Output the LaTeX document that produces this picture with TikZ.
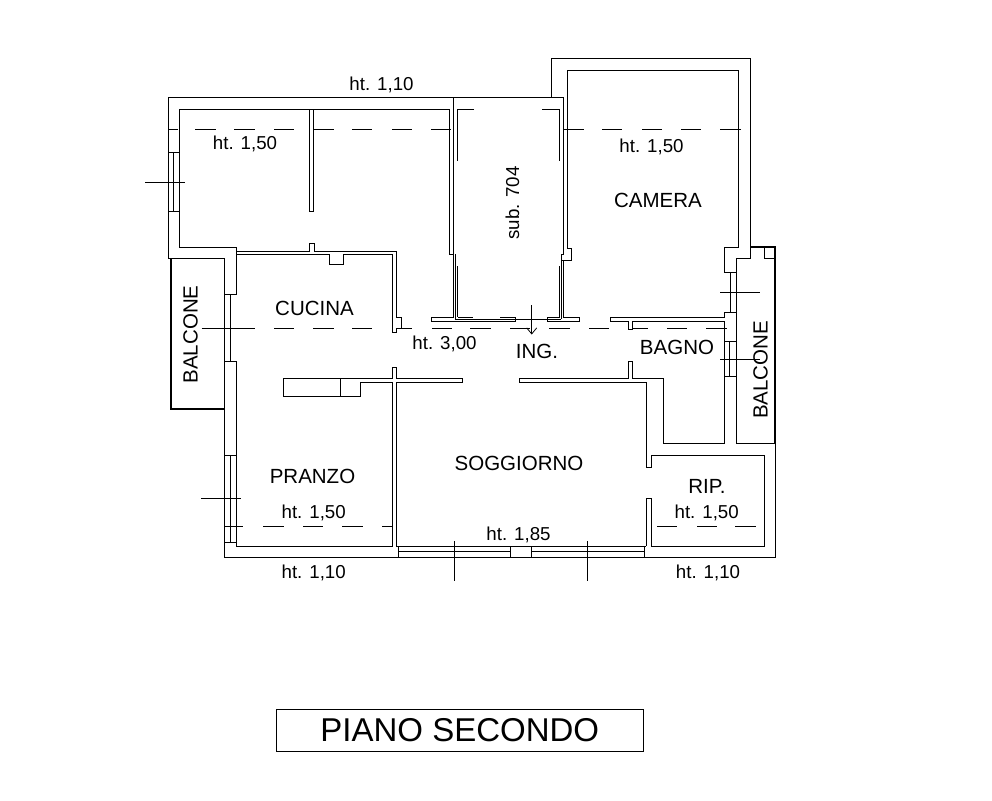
\documentclass[tikz,border=0pt]{standalone}
\usepackage{fontspec}
\setmainfont{Liberation Sans}
\usetikzlibrary{arrows.meta}

\tikzset{
	wall/.style={black, line width=0.95pt, line join=miter},
	heavy wall/.style={black, line width=2pt},
	thin wall/.style={black, line width=0.8pt},
	section/.style={black, line width=0.75pt},
	ht label/.style={inner sep=0pt, text height=14pt, text depth=0pt, font=\fontsize{18.7}{19}\selectfont},
	room label/.style={inner sep=0pt, text height=15pt, text depth=0pt, font=\fontsize{20.5}{20.5}\selectfont}
}

\begin{document}
\begin{tikzpicture}[x=1pt, y=-1pt]
	\useasboundingbox (0,0) rectangle (992,800);

	% outer walls
	\draw [wall] (168.5,258.7) -- (168.5,97.5) -- (563.3,97.5) -- (563.3,254) -- (561.3,254) -- (561.3,319);
	\draw [wall] (551.3,97.5) -- (551.3,58.7) -- (750.3,58.7) -- (750.3,258.5) -- (736.5,258.5) -- (736.5,443.7) -- (775,443.7);
	\draw [wall] (168.5,258.7) -- (224.3,258.7) -- (224.3,557.2) -- (775,557.2) -- (775,443.7);

	% balconies
	\draw [heavy wall] (224.3,409.3) -- (170.8,409.3) -- (170.8,258.7);
	\draw [heavy wall] (750.3,247.3) -- (775,247.3) -- (775,443.7);
	\draw [thin wall] (764.3,247.3) -- (764.3,258.5) -- (775,258.5);

	% rooms, top left
	\draw [wall] (179.5,152.3) -- (179.5,109.5) -- (449.3,109.5) -- (449.3,254) -- (453.5,254) -- (453.5,97.5);
	\draw [wall] (179.5,211.7) -- (179.5,247.3) -- (236.7,247.3) -- (236.7,294.3) -- (224.3,294.3);
	\draw [wall] (168.5,152.3) -- (179.5,152.3) (168.5,211.7) -- (179.5,211.7);
	\draw [thin wall] (173.5,152.3) -- (173.5,211.7) (179.5,152.3) -- (179.5,211.7);
	\draw [wall] (309.3,109.5) -- (309.3,211.7) -- (313.7,211.7) -- (313.7,109.5);

	% cucina
	\draw [wall] (236.7,251.3) -- (309.3,251.3) -- (309.3,243.3) -- (314,243.3) -- (314,251.3) -- (396.7,251.3) -- (396.7,317.3) -- (401,317.3) -- (401,328.3) -- (396.7,328.3) -- (396.7,332.3) -- (392.3,332.3) -- (392.3,254.3) -- (343.7,254.3) -- (343.7,264.3) -- (329.7,264.3) -- (329.7,254.3) -- (236.7,254.3);

	% sub. 704
	\draw [wall] (453.5,254) -- (453.5,317.1) -- (431.7,317.1) -- (431.7,321.3) -- (515.7,321.3) -- (515.7,317.1) -- (500,317.1);
	\draw [thin wall] (455.7,254) -- (455.7,319) -- (561.3,319);
	\draw [thin wall] (458,317.1) -- (472.7,317.1);
	\draw [thin wall] (474,109.5) -- (457.3,109.5) -- (457.3,160.7);
	\draw [thin wall] (542,109.5) -- (559.3,109.5) -- (559.3,160.7);
	\draw [thin wall] (457.3,266) -- (457.3,317.1);
	\draw [thin wall] (559.3,266) -- (559.3,317.1) -- (547.3,317.1);
	\draw [wall] (561.3,321.3) -- (547.3,321.3) -- (547.3,317.1);

	% camera
	\draw [wall] (567.3,248.7) -- (567.3,70.3) -- (738.3,70.3) -- (738.3,247.3) -- (724.3,247.3) -- (724.3,272.3) -- (736.5,272.3);
	\draw [wall] (567.3,248.7) -- (571.3,248.7) -- (571.3,260) -- (561.3,260);
	\draw [wall] (563.3,260) -- (563.3,317.1) -- (579.7,317.1) -- (579.7,321.3) -- (561.3,321.3);
	\draw [thin wall] (730.7,272.3) -- (730.7,312.3);

	% bagno
	\draw [wall] (736.5,312.3) -- (724.3,312.3) -- (724.3,317.1) -- (610,317.1) -- (610,321.3) -- (628,321.3) -- (628,329.3) -- (632.7,329.3) -- (632.7,321.3) -- (724.3,321.3) -- (724.3,376.3);
	\draw [wall] (724.3,341.3) -- (736.5,341.3) (724.3,376.3) -- (736.5,376.3);
	\draw [thin wall] (729,341.3) -- (729,376.3);
	\draw [wall] (724.3,376.3) -- (724.3,443.7) -- (663.7,443.7) -- (663.7,378.5) -- (632.7,378.5) -- (632.7,361.3) -- (628.3,361.3) -- (628.3,378.5) -- (519.3,378.5) -- (519.3,382.3) -- (646.3,382.3) -- (646.3,467.3) -- (651.3,467.3) -- (651.3,455.3) -- (764.7,455.3) -- (764.7,546.3) -- (651.3,546.3) -- (651.3,498.3) -- (646.3,498.3) -- (646.3,546.3);

	% pranzo, soggiorno
	\draw [wall] (230.3,294.3) -- (230.3,361.3);
	\draw [wall] (224.3,361.3) -- (236.3,361.3) -- (236.3,546.3) -- (392.3,546.3) -- (392.3,382.3) -- (360.3,382.3) -- (360.3,396.3) -- (283.3,396.3) -- (283.3,378.3) -- (392.3,378.3) -- (392.3,367.3) -- (396.3,367.3) -- (396.3,378.3) -- (462.7,378.3) -- (462.7,382.3) -- (396.3,382.3) -- (396.3,546.3);
	\draw [thin wall] (340.3,378.3) -- (340.3,396.3);
	\draw [wall] (224.3,455.3) -- (236.3,455.3) (224.3,542.3) -- (236.3,542.3);
	\draw [thin wall] (230.3,455.3) -- (230.3,542.3);

	% bottom window
	\draw [wall] (396.3,546.3) -- (646.3,546.3);
	\draw [thin wall] (398.3,546.3) -- (398.3,557.2) (644.3,546.3) -- (644.3,557.2);
	\draw [thin wall] (398.3,551.7) -- (510.3,551.7) (531.3,551.7) -- (644.3,551.7);
	\draw [thin wall] (510.3,546.3) -- (510.3,557.2) (531.3,546.3) -- (531.3,557.2);

	% dashed lines, drawn one by one
	\foreach \xa/\xb in {168/178, 195/216, 234/255, 274/294, 314/334, 352/372, 392/412, 431/451, 564/584, 602/622, 642/662, 681/701, 720/741}
		\draw [section] (\xa,129.3) -- (\xb,129.3);
	\foreach \xa/\xb in {201.7/255, 274/294, 313/334, 352/372, 397/412, 432/452, 470/491, 510/530, 549/570, 589/609, 633/648, 667/687, 706/727}
		\draw [section] (\xa,328) -- (\xb,328);
	\foreach \xa/\xb in {224/243, 263/284, 303/323, 342/363, 382/392, 657/677, 697/717, 735/756}
		\draw [section] (\xa,526.5) -- (\xb,526.5);

	% section ticks
	\draw [section] (145,182.3) -- (185,182.3);
	\draw [section] (201,498.3) -- (241,498.3);
	\draw [section] (720,292.3) -- (760,292.3);
	\draw [section] (720,359) -- (760,359);
	\draw [section] (454.3,541) -- (454.3,581);
	\draw [section] (587.3,541) -- (587.3,581);
	\draw [section, -{Straight Barb[length=6pt, width=10pt]}] (531.7,305) -- (531.7,334.5);

	% labels
	\node [ht label] (htTop) at (381.5,83) {ht. 1,10};
	\node [ht label] (htStudio) at (245,142) {ht. 1,50};
	\node [ht label] (htCamera) at (651.5,145.5) {ht. 1,50};
	\node [ht label] (htIng) at (444.5,342) {ht. 3,00};
	\node [ht label] (htPranzo) at (313.7,511) {ht. 1,50};
	\node [ht label] (htRip) at (706.7,511) {ht. 1,50};
	\node [ht label] (htSog) at (518.5,533) {ht. 1,85};
	\node [ht label] (htLeft) at (313.7,571) {ht. 1,10};
	\node [ht label] (htRight) at (708,571) {ht. 1,10};
	\node [ht label, rotate=90] (sub) at (512,203) {sub. 704};
	\node [room label] (camera) at (658,199.5) {CAMERA};
	\node [room label] (cucina) at (314.5,307.5) {CUCINA};
	\node [room label] (ing) at (537,351) {ING.};
	\node [room label] (bagno) at (677,346.5) {BAGNO};
	\node [room label] (pranzo) at (312.5,475.5) {PRANZO};
	\node [room label] (soggiorno) at (519,462.5) {SOGGIORNO};
	\node [room label] (rip) at (707,485.5) {RIP.};
	\node [room label, rotate=90] (balconeL) at (190,334.5) {BALCONE};
	\node [room label, rotate=90] (balconeR) at (760,370) {BALCONE};

	% title
	\node [draw, line width=0.95pt, minimum width=367pt, minimum height=41.7pt, inner sep=0pt, font=\fontsize{33}{33}\selectfont] (title) at (459.8,730.2) {PIANO SECONDO};
\end{tikzpicture}
\end{document}
